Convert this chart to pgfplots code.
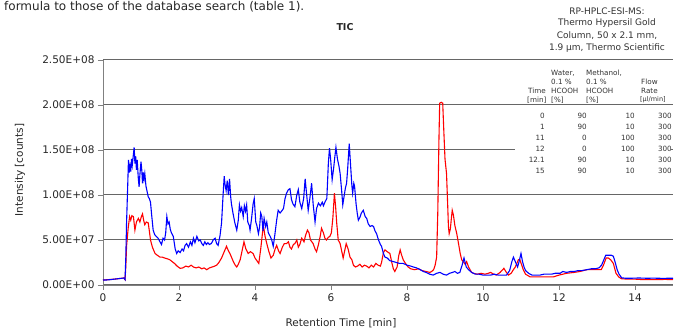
\documentclass[border=0pt]{standalone}
\usepackage{pgfplots}
\pgfplotsset{compat=1.18}
\usepackage{fontspec}
\setmainfont{DejaVu Sans}
\begin{document}
\begin{tikzpicture}[x=1pt,y=1pt]
\useasboundingbox (0,0) rectangle (675,329);
\node[anchor=base west, font=\fontsize{12}{14}\selectfont, text=black!85, inner sep=0pt] at (4,318.5) {formula to those of the database search (table 1).};
\begin{axis}[at={(103pt,44pt)}, anchor=south west, scale only axis, width=570pt, height=225pt,
 xmin=0, xmax=15, ymin=0, ymax=250,
 axis x line=bottom, axis y line=left,
 axis line style={-, gray, line width=0.8pt},
 xtick={0,2,...,14}, ytick={0,50,...,250},
 yticklabels={0.00E+00,5.00E+07,1.00E+08,1.50E+08,2.00E+08,2.50E+08},
 tick style={gray, line width=0.8pt}, tick align=outside, major tick length=5pt,
 ymajorgrids, grid style={gray!80!black, line width=1pt},
 tick label style={font=\fontsize{10.5}{12}\selectfont, text=black!85},
 /pgf/number format/assume math mode=true,
 clip=true,
]
\addplot[red, line width=1.1pt] coordinates {
(0,5.5)(0.3,6.5)(0.55,7.8)(0.58,6)(0.6,20)(0.62,43)(0.66,62)(0.7,76)(0.73,72)(0.76,77)(0.8,76)(0.84,61)(0.88,70)(0.93,74)(0.97,70)(1.01,76)(1.04,79)(1.07,72)(1.1,67)(1.14,70)(1.19,69)(1.22,60)(1.25,50)(1.3,42)(1.37,35)(1.43,33)(1.5,31)(1.56,31)(1.62,30)(1.7,29)(1.76,28)(1.82,26)(1.88,24)(1.95,21)(2.03,18.5)(2.1,19)(2.18,21)(2.25,20)(2.32,22)(2.38,20)(2.45,19)(2.52,20)(2.6,18)(2.66,19)(2.73,17)(2.8,19)(2.87,20)(2.94,21)(2.99,22)(3.05,25)(3.12,30)(3.18,36)(3.25,43)(3.3,38)(3.34,35)(3.38,31)(3.43,26)(3.48,22)(3.52,20)(3.56,23)(3.61,28)(3.66,38)(3.71,48)(3.76,40)(3.82,35)(3.88,37)(3.95,35)(4.0,30)(4.05,27)(4.1,24)(4.15,40)(4.19,55)(4.22,67)(4.26,55)(4.31,46)(4.36,38)(4.42,30)(4.48,33)(4.53,40)(4.57,44)(4.62,38)(4.66,35)(4.72,42)(4.77,46)(4.83,46)(4.88,48)(4.92,42)(4.96,40)(5.01,45)(5.05,46)(5.1,50)(5.14,42)(5.18,45)(5.23,52)(5.29,48)(5.33,55)(5.38,61)(5.42,58)(5.46,50)(5.53,46)(5.58,40)(5.62,37)(5.67,45)(5.72,55)(5.75,63)(5.8,58)(5.84,52)(5.88,50)(5.93,53)(5.97,54)(6.01,58)(6.05,75)(6.09,102)(6.12,88)(6.15,69)(6.19,50)(6.24,46)(6.28,38)(6.32,30)(6.36,38)(6.4,46)(6.45,40)(6.5,31)(6.55,28)(6.59,22)(6.64,20)(6.7,21)(6.76,23)(6.82,20)(6.88,22)(6.94,21)(7.0,19)(7.06,22)(7.12,20)(7.18,24)(7.24,22)(7.3,21)(7.33,25)(7.38,36)(7.42,39)(7.48,37)(7.55,35)(7.6,25)(7.64,18)(7.68,15)(7.74,20)(7.78,32)(7.82,39)(7.86,33)(7.9,28)(7.96,24)(8.03,20)(8.1,18)(8.2,17)(8.3,18)(8.4,16)(8.5,15)(8.6,14)(8.65,15)(8.7,17)(8.74,22)(8.78,31)(8.81,80)(8.84,160)(8.86,202)(8.9,203)(8.94,202)(8.97,170)(9.0,140)(9.04,124)(9.07,90)(9.09,65)(9.11,57)(9.14,62)(9.17,75)(9.19,83)(9.22,78)(9.26,66)(9.31,57)(9.36,45)(9.4,35)(9.44,28)(9.5,25)(9.53,23)(9.57,26)(9.62,20)(9.7,14)(9.75,13)(9.85,12)(9.95,13)(10.05,12)(10.14,13)(10.2,14)(10.28,12)(10.35,11)(10.45,14)(10.55,18.5)(10.6,15)(10.67,11)(10.74,13)(10.8,17)(10.85,20)(10.89,24)(10.93,28)(10.97,28)(11.02,22)(11.06,17)(11.12,12)(11.24,9)(11.4,9)(11.6,9)(11.85,9)(12.0,11)(12.2,13)(12.4,14)(12.55,15)(12.73,17)(12.9,17)(13.05,17)(13.11,17)(13.17,22)(13.24,30)(13.3,30)(13.36,28)(13.43,24)(13.5,13)(13.57,9)(13.64,7)(13.8,6.5)(14.0,6.5)(14.2,6)(14.5,6)(14.8,6.2)(15.0,6)
};
\addplot[blue, line width=1.1pt] coordinates {
(0,5.5)(0.1,5.6)(0.2,6)(0.3,6.5)(0.4,7)(0.5,7.5)(0.55,7.8)(0.58,6)(0.6,30)(0.62,69)(0.65,110)(0.67,139)(0.69,125)(0.71,132)(0.73,126)(0.75,140)(0.77,133)(0.8,145)(0.82,153)(0.84,135)(0.86,143)(0.88,128)(0.9,139)(0.93,118)(0.95,109)(0.97,122)(1.0,137)(1.02,128)(1.04,113)(1.06,125)(1.08,118)(1.1,124)(1.13,110)(1.16,104)(1.19,98)(1.22,96)(1.25,92)(1.28,78)(1.32,61)(1.36,56)(1.4,54)(1.45,52)(1.5,48)(1.54,45)(1.58,52)(1.62,50)(1.65,58)(1.68,76)(1.71,68)(1.74,70)(1.77,62)(1.8,58)(1.85,54)(1.9,40)(1.94,35)(1.98,38)(2.03,36)(2.08,40)(2.12,38)(2.16,44)(2.2,46)(2.25,42)(2.3,48)(2.34,44)(2.38,52)(2.42,47)(2.47,54)(2.52,49)(2.56,50)(2.6,46)(2.64,44)(2.68,48)(2.72,45)(2.76,47)(2.8,45)(2.85,46)(2.9,50)(2.95,52)(2.99,46)(3.03,44)(3.08,55)(3.12,69)(3.16,100)(3.19,121)(3.21,112)(3.24,105)(3.27,116)(3.3,100)(3.33,118)(3.36,98)(3.38,90)(3.42,80)(3.47,69)(3.52,61)(3.56,72)(3.59,89)(3.62,82)(3.65,86)(3.69,76)(3.72,88)(3.75,82)(3.78,89)(3.81,70)(3.85,66)(3.87,61)(3.91,74)(3.95,90)(3.98,96)(4.02,70)(4.05,66)(4.09,57)(4.12,64)(4.15,80)(4.18,76)(4.21,60)(4.24,74)(4.28,65)(4.31,70)(4.35,58)(4.4,54)(4.44,50)(4.48,43)(4.52,55)(4.57,72)(4.61,83)(4.66,80)(4.7,82)(4.75,85)(4.79,96)(4.83,102)(4.88,106)(4.92,107)(4.96,95)(5.0,90)(5.05,87)(5.1,100)(5.14,106)(5.18,92)(5.23,85)(5.28,96)(5.32,118)(5.36,100)(5.4,83)(5.44,95)(5.49,113)(5.53,90)(5.58,70)(5.62,85)(5.67,91)(5.72,88)(5.77,92)(5.8,88)(5.85,93)(5.89,96)(5.91,115)(5.93,135)(5.96,152)(5.99,140)(6.03,117)(6.07,130)(6.1,142)(6.13,153)(6.17,140)(6.21,132)(6.24,124)(6.28,105)(6.31,89)(6.35,100)(6.38,108)(6.41,113)(6.44,130)(6.48,157)(6.52,130)(6.55,110)(6.57,102)(6.6,113)(6.62,110)(6.66,90)(6.69,80)(6.72,72)(6.76,75)(6.8,80)(6.85,83)(6.9,76)(6.94,74)(6.98,68)(7.03,65)(7.08,66)(7.12,65)(7.16,60)(7.2,57)(7.25,50)(7.3,45)(7.33,43)(7.38,35)(7.42,31)(7.48,30)(7.55,27)(7.64,26)(7.72,25)(7.8,24)(7.9,24)(8.0,22)(8.1,21)(8.17,20)(8.25,19)(8.35,17)(8.43,15)(8.5,14)(8.6,12)(8.69,11)(8.78,13)(8.87,14)(8.95,12)(9.04,11)(9.12,13)(9.2,14)(9.26,15)(9.33,13)(9.39,14)(9.45,22)(9.5,30)(9.53,25)(9.56,20)(9.62,17)(9.7,14)(9.8,12)(9.9,12)(10.0,11)(10.1,11)(10.2,11)(10.3,12)(10.4,11)(10.5,11)(10.62,11)(10.7,16)(10.76,26)(10.8,31)(10.85,26)(10.91,20)(10.95,26)(11.0,35)(11.04,26)(11.08,20)(11.12,16)(11.2,13)(11.29,11)(11.4,11)(11.5,11)(11.6,12)(11.7,12)(11.8,12)(11.9,13)(12.03,13)(12.1,15)(12.2,14)(12.3,15)(12.4,15)(12.5,16)(12.6,16)(12.73,17)(12.85,18)(12.95,18)(13.05,19)(13.12,22)(13.18,28)(13.23,33)(13.3,33)(13.38,33)(13.43,32)(13.48,25)(13.53,17)(13.58,12)(13.65,8)(13.75,7.5)(13.9,7.5)(14.1,7.8)(14.3,7.5)(14.5,7.6)(14.7,7.4)(15.0,7.5)
};
\end{axis}
% axis labels
\node[font=\fontsize{10.5}{12}\selectfont, text=black!85] at (341,6) {Retention Time [min]};
\node[font=\fontsize{10.5}{12}\selectfont, text=black!85, rotate=90] at (20,159) {Intensity [counts]};
\node[font=\bfseries\fontsize{9.5}{12}\selectfont, text=black!85] at (345,302) {TIC};
% method box
\fill[white] (515,266.5) rectangle (671,225.5);
\fill[white] (515,222.5) rectangle (671,151);
\begin{scope}[every node/.style={font=\fontsize{9}{10}\selectfont, text=black!80, inner sep=0pt}]
\node at (607,318) {RP-HPLC-ESI-MS:};
\node at (607,305.5) {Thermo Hypersil Gold};
\node at (607,293) {Column, 50 x 2.1 mm,};
\node at (607,280.5) {1.9 µm, Thermo Scientific};
\end{scope}
\begin{scope}[every node/.style={font=\fontsize{7.2}{8}\selectfont, text=black!80, inner sep=0pt}]
\node[anchor=west] at (551,256) {Water,};
\node[anchor=west] at (551,247) {0.1 \%};
\node[anchor=west] at (551,238) {HCOOH};
\node[anchor=west] at (551,229) {[\%]};
\node[anchor=west] at (586,256) {Methanol,};
\node[anchor=west] at (586,247) {0.1 \%};
\node[anchor=west] at (586,238) {HCOOH};
\node[anchor=west] at (586,229) {[\%]};
\node[anchor=west] at (528,238) {Time};
\node[anchor=west] at (527,229) {[min]};
\node[anchor=west] at (641,247) {Flow};
\node[anchor=west] at (641,238) {Rate};
\node[anchor=west, font=\fontsize{6.5}{8}\selectfont] at (640,229) {[µl/min]};
\foreach \t/\w/\m/\f/\y in {0/90/10/300/213, 1/90/10/300/202, 11/0/100/300/191, 12/0/100/300/180, 12.1/90/10/300/169, 15/90/10/300/158}{
 \node[anchor=east] at (545,\y) {\t};
 \node[anchor=east] at (587,\y) {\w};
 \node[anchor=east] at (635,\y) {\m};
 \node[anchor=east] at (672,\y) {\f};
}
\end{scope}
\end{tikzpicture}
\end{document}
